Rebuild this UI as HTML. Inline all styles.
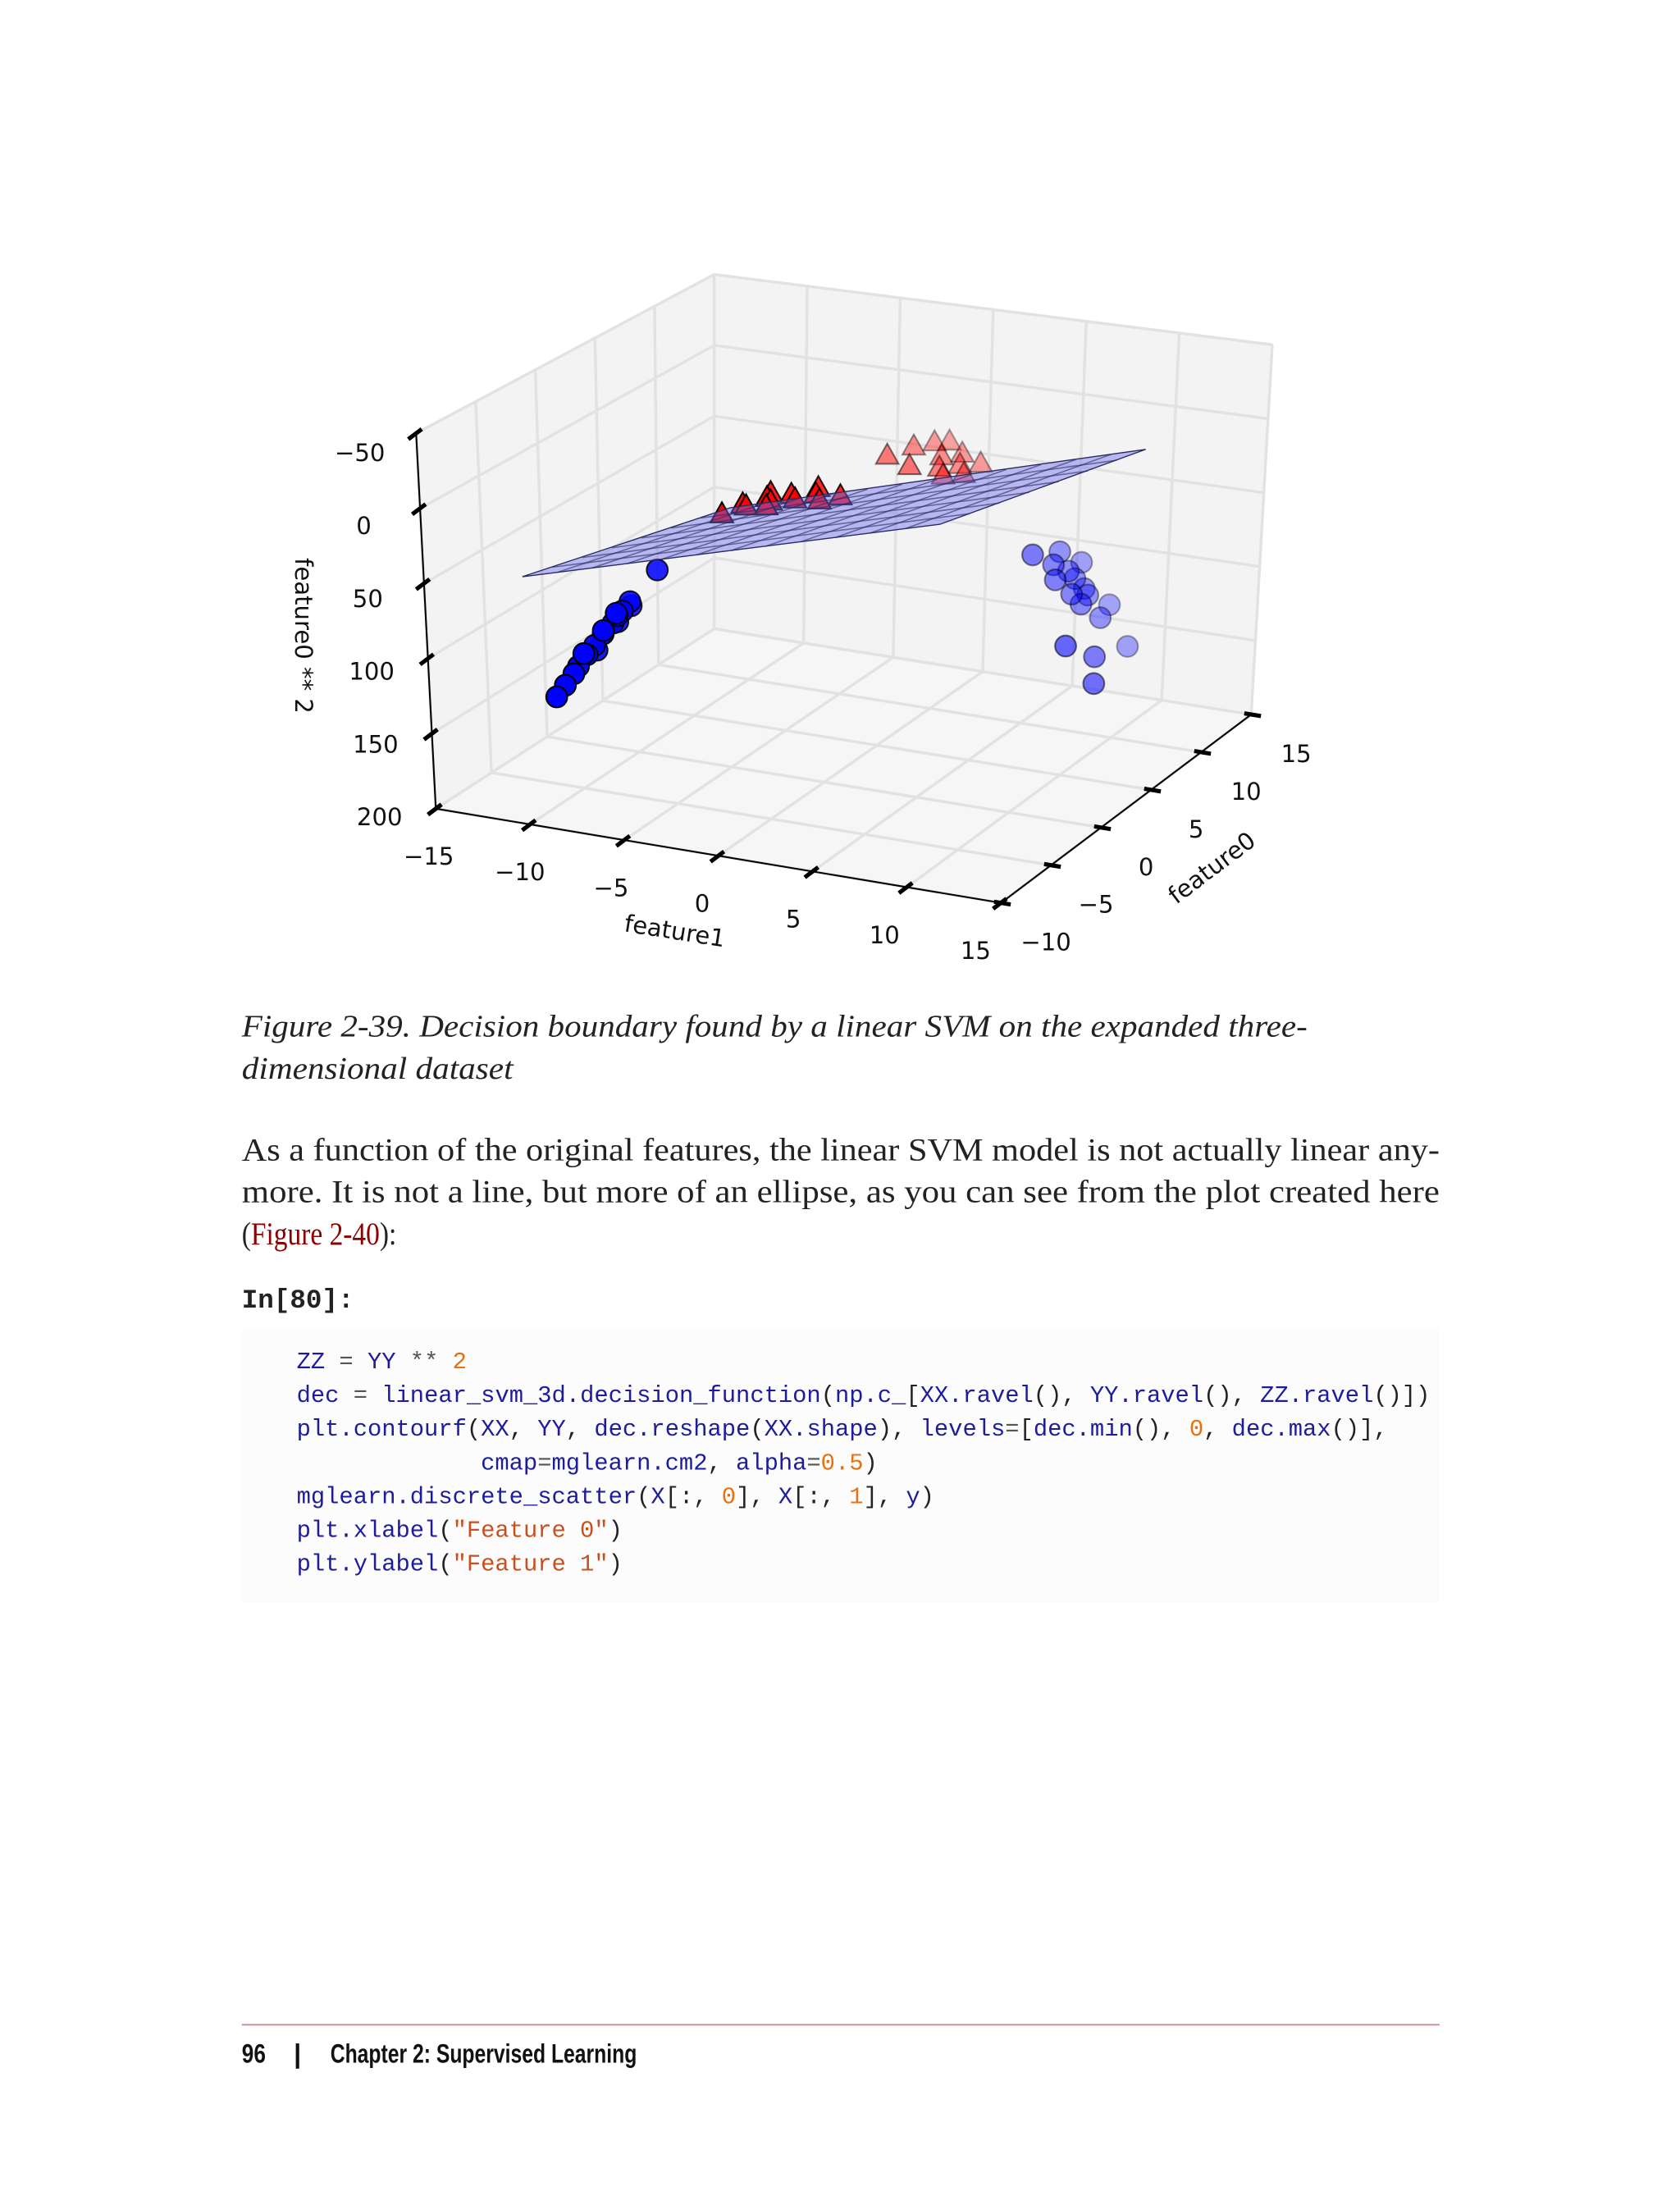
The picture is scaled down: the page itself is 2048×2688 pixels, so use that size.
<!DOCTYPE html>
<html><head><meta charset="utf-8"><style>
html,body{margin:0;padding:0;background:#fff;}
svg{display:block;}
.cap{font-family:"Liberation Serif",serif;font-style:italic;font-size:22px;fill:#222;}
.par{font-family:"Liberation Serif",serif;font-size:23px;fill:#222;}
.code{font-family:"Liberation Mono",monospace;font-size:16.8px;}
.tk{font-family:"DejaVu Sans",sans-serif;font-size:17px;fill:#111;}
</style></head><body>
<svg id="page" width="2048" height="2688" viewBox="0 0 1195 1568" xmlns="http://www.w3.org/2000/svg">
<g id="chart"></g>
<g>
<text class="cap" x="172" y="737" textLength="758" lengthAdjust="spacingAndGlyphs">Figure 2-39. Decision boundary found by a linear SVM on the expanded three-</text>
<text class="cap" x="172" y="767" textLength="193" lengthAdjust="spacingAndGlyphs">dimensional dataset</text>
</g>
<g>
<text class="par" x="172" y="825" textLength="852" lengthAdjust="spacingAndGlyphs">As a function of the original features, the linear SVM model is not actually linear any-</text>
<text class="par" x="172" y="855" textLength="852" lengthAdjust="spacingAndGlyphs">more. It is not a line, but more of an ellipse, as you can see from the plot created here</text>
<text class="par" x="172" y="885" textLength="110" lengthAdjust="spacingAndGlyphs">(<tspan fill="#8b0000">Figure 2-40</tspan>):</text>
</g>
<text x="172" y="930" style="font-family:'Liberation Mono',monospace;font-weight:bold;font-size:19px;fill:#222">In[80]:</text>
<rect x="172" y="945" width="852" height="195" fill="#fcfcfc"/>
<g class="code">
<text x="211" y="973"><tspan fill="#1d1d9b">ZZ</tspan><tspan fill="#555"> = </tspan><tspan fill="#1d1d9b">YY</tspan><tspan fill="#555"> ** </tspan><tspan fill="#e8700f">2</tspan></text>
<text x="211" y="997"><tspan fill="#1d1d9b">dec</tspan><tspan fill="#555"> = </tspan><tspan fill="#1d1d9b">linear_svm_3d.decision_function</tspan><tspan fill="#222">(</tspan><tspan fill="#1d1d9b">np.c_</tspan><tspan fill="#222">[</tspan><tspan fill="#1d1d9b">XX.ravel</tspan><tspan fill="#222">(), </tspan><tspan fill="#1d1d9b">YY.ravel</tspan><tspan fill="#222">(), </tspan><tspan fill="#1d1d9b">ZZ.ravel</tspan><tspan fill="#222">()])</tspan></text>
<text x="211" y="1021"><tspan fill="#1d1d9b">plt.contourf</tspan><tspan fill="#222">(</tspan><tspan fill="#1d1d9b">XX</tspan><tspan fill="#222">, </tspan><tspan fill="#1d1d9b">YY</tspan><tspan fill="#222">, </tspan><tspan fill="#1d1d9b">dec.reshape</tspan><tspan fill="#222">(</tspan><tspan fill="#1d1d9b">XX.shape</tspan><tspan fill="#222">), </tspan><tspan fill="#1d1d9b">levels</tspan><tspan fill="#555">=</tspan><tspan fill="#222">[</tspan><tspan fill="#1d1d9b">dec.min</tspan><tspan fill="#222">(), </tspan><tspan fill="#e8700f">0</tspan><tspan fill="#222">, </tspan><tspan fill="#1d1d9b">dec.max</tspan><tspan fill="#222">()],</tspan></text>
<text x="342" y="1045"><tspan fill="#1d1d9b">cmap</tspan><tspan fill="#555">=</tspan><tspan fill="#1d1d9b">mglearn.cm2</tspan><tspan fill="#222">, </tspan><tspan fill="#1d1d9b">alpha</tspan><tspan fill="#555">=</tspan><tspan fill="#e8700f">0.5</tspan><tspan fill="#222">)</tspan></text>
<text x="211" y="1069"><tspan fill="#1d1d9b">mglearn.discrete_scatter</tspan><tspan fill="#222">(</tspan><tspan fill="#1d1d9b">X</tspan><tspan fill="#222">[:, </tspan><tspan fill="#e8700f">0</tspan><tspan fill="#222">], </tspan><tspan fill="#1d1d9b">X</tspan><tspan fill="#222">[:, </tspan><tspan fill="#e8700f">1</tspan><tspan fill="#222">], </tspan><tspan fill="#1d1d9b">y</tspan><tspan fill="#222">)</tspan></text>
<text x="211" y="1093"><tspan fill="#1d1d9b">plt.xlabel</tspan><tspan fill="#222">(</tspan><tspan fill="#c8501e">"Feature 0"</tspan><tspan fill="#222">)</tspan></text>
<text x="211" y="1117"><tspan fill="#1d1d9b">plt.ylabel</tspan><tspan fill="#222">(</tspan><tspan fill="#c8501e">"Feature 1"</tspan><tspan fill="#222">)</tspan></text>
</g>
<line x1="172" y1="1440" x2="1024" y2="1440" stroke="#c89595" stroke-width="1.2"/>
<g style="font-family:'Liberation Sans Narrow','Liberation Sans',sans-serif;font-weight:bold;font-size:19px;fill:#111">
<text x="172" y="1467" textLength="17" lengthAdjust="spacingAndGlyphs">96</text>
<text x="209" y="1467">|</text>
<text x="235" y="1467" textLength="218" lengthAdjust="spacingAndGlyphs">Chapter 2: Supervised Learning</text>
</g>
</svg>
<script>
// ---- data ----
const f1Ticks = [-15,-10,-5,0,5,10,15];
const f0Ticks = [-10,-5,0,5,10,15];
const zTicks = [-50,0,50,100,150,200];
const f1Labels = ["\u221215","\u221210","\u22125","0","5","10","15"];
const f0Labels = ["\u221210","\u22125","0","5","10","15"];
const zLabels = ["\u221250","0","50","100","150","200"];
const redF1 = [-3,-2.5,-2,-1.5,-1,-0.5,0,0.5,1,1.5,-1.8,0.2,-0.8, 0.5,1,2,2.5,3,3.5,2.5,0,1.5,3.5,1.5,3];
const redF0 = [-3.5,-2.5,-3,-2,-2.5,-1.5,-2,-1,-1.5,-0.5,-1.2,-0.3,-3.2, 7.5,8.5,7.5,6.5,6,7,8.5,6,5.5,8.5,9,7.5];
const redZ  = [9,6,4,2,1,0.3,0,0.3,1,2,3,0,0.6, 8,9,12,14,16,19,14,8,10,19,10,16];
const blueF1 = [-12.3,-12.0,-11.7,-11.5,-11.2,-11.0,-10.9,-10.6,-10.4,-10.3,-10.0,-9.9,-9.8,-9.6,-8.45,-11.4,-10.6,-10.1,
                10.5,8.2,11.7,11.4,7.8,10.4,9.8,8.8,8.8,8.8,9.1,9.5,10.25,11.15,8.4,9.4,9.7];
const blueF0 = [-3.4,-3.1,-2.8,-2.7,-2.4,-3.0,-2.2,-1.9,-2.2,-1.5,-1.6,-1.3,-2.0,-1.1,-0.5,-1.2,-0.6,-0.2,
                4.6,7.9,5.2,8.9,6.1,8.0,7.2,7.7,8.9,6.5,7.8,8.0,9.1,6.2,7.0,7.0,8.0];
const blueZ = [151,144,137,132,125,121,119,112,108,106,100,98,96,92,71,128,110,100,
               110,67,136,130,61,108,96,78,78,78,83,90,105,124,71,89,94];
const planeCoef = [25.5,-3.6,2.06]; // z = c0 + c1*f1 + c2*f0
const planeF1Range = [-12,10.5];
const planeF0Range = [-6.4,11.6];
const planeDivs = [12,7];

// ---- projection (trilinear box) ----
const F = {FLb:[310,575],FRb:[712,642],BRb:[890,508],BLb:[508,447],
           FLt:[296,308],FRt:[698,375],BRt:[905,245],BLt:[508,195]};
function lerp(a,b,t){return [a[0]+(b[0]-a[0])*t,a[1]+(b[1]-a[1])*t];}
function proj(f1,f0,z){
  const u=(f1+15)/30, v=(f0+10)/25, w=(200-z)/250;
  const fb=lerp(F.FLb,F.FRb,u), bb=lerp(F.BLb,F.BRb,u);
  const fl=lerp(fb,bb,v);
  const ft=lerp(F.FLt,F.FRt,u), bt=lerp(F.BLt,F.BRt,u);
  const tp=lerp(ft,bt,v);
  return lerp(fl,tp,w);
}
const NS="http://www.w3.org/2000/svg";
const chart=document.getElementById('chart');
function mk(tag,attrs,parent){const e=document.createElementNS(NS,tag);for(const k in attrs)e.setAttribute(k,attrs[k]);(parent||chart).appendChild(e);return e;}
function pts(list){return list.map(p=>p[0].toFixed(1)+','+p[1].toFixed(1)).join(' ');}

// panes
const panes=mk('g',{});


const paneStyle={fill:'#f3f3f3',stroke:'#e4e4e4','stroke-width':1};
let p=mk('polygon',Object.assign({points:pts([proj(-15,-10,200),proj(-15,15,200),proj(-15,15,-50),proj(-15,-10,-50)])},paneStyle),panes);


p=mk('polygon',Object.assign({points:pts([proj(-15,15,200),proj(15,15,200),proj(15,15,-50),proj(-15,15,-50)])},paneStyle),panes);


p=mk('polygon',{points:pts([proj(-15,-10,200),proj(15,-10,200),proj(15,15,200),proj(-15,15,200)]),fill:'#f6f6f6'},panes);



// gridlines
const grid=mk('g',{stroke:'#e2e2e2','stroke-width':2,fill:'none'});


function gl(a,b){const l=mk('line',{x1:a[0],y1:a[1],x2:b[0],y2:b[1]},grid);}
f1Ticks.forEach(t=>{gl(proj(t,-10,200),proj(t,15,200));gl(proj(t,15,200),proj(t,15,-50));});
f0Ticks.forEach(t=>{gl(proj(-15,t,200),proj(15,t,200));gl(proj(-15,t,200),proj(-15,t,-50));});
zTicks.forEach(t=>{gl(proj(-15,-10,t),proj(-15,15,t));gl(proj(-15,15,t),proj(15,15,t));});

// axes
const axes=mk('g',{stroke:'#000','stroke-width':1.2});


function al(a,b,name){const l=mk('line',{x1:a[0],y1:a[1],x2:b[0],y2:b[1]},axes);}
al(proj(-15,-10,200),proj(-15,-10,-50),'z-axis-line');
al(proj(-15,-10,200),proj(15,-10,200),'feature1-axis-line');
al(proj(15,-10,200),proj(15,15,200),'feature0-axis-line');
function unit(a,b){const dx=b[0]-a[0],dy=b[1]-a[1],L=Math.hypot(dx,dy);return [dx/L,dy/L];}
const dirF0=unit(proj(15,-10,200),proj(15,15,200));
const dirF1=unit(proj(-15,-10,200),proj(15,-10,200));
function tick(pt,d,name){const l=mk('line',{x1:pt[0]-d[0]*7,y1:pt[1]-d[1]*7,x2:pt[0]+d[0]*5,y2:pt[1]+d[1]*5,'stroke-width':3},axes);}
function label(txt,x,y,name,extra){const t=mk('text',Object.assign({x:x,y:y,'text-anchor':'middle','dominant-baseline':'central',class:'tk'},extra||{}));t.textContent=txt;return t;}
zTicks.forEach((t,i)=>{const q=proj(-15,-10,t);tick(q,dirF0,'z-tick');label(zLabels[i],q[0]-40,q[1]+14-(i*1.6),'z-tick-label');});
f1Ticks.forEach((t,i)=>{const q=proj(t,-10,200);tick(q,dirF0,'feature1-tick');const u=(t+15)/30;label(f1Labels[i],q[0]-5-13*u,q[1]+34,'feature1-tick-label');});
f0Ticks.forEach((t,i)=>{const q=proj(15,t,200);tick(q,[-dirF1[0],-dirF1[1]],'feature0-tick');label(f0Labels[i],q[0]+32,q[1]+28,'feature0-tick-label');});
label('feature1',480,662,'x-axis-title',{transform:'rotate(9 480 662)'});
label('feature0',862,617,'y-axis-title',{transform:'rotate(-37 862 617)'});
label('feature0 ** 2',216,452,'z-axis-title',{transform:'rotate(90 216 452)'});

// points
const pointsG=mk('g',{});


const all=[];
redF1.forEach((v,i)=>all.push({c:'r',f1:v,f0:redF0[i],z:redZ[i]}));
blueF1.forEach((v,i)=>all.push({c:'b',f1:v,f0:blueF0[i],z:blueZ[i]}));
all.sort((a,b)=>b.f0-a.f0);
all.forEach(o=>{
  const q=proj(o.f1,o.f0,o.z);
  const a=Math.max(0.32,Math.min(1,1-(o.f0+3)*0.055));
  if(o.c==='b'){
    const e=mk('circle',{cx:q[0],cy:q[1],r:7.5,fill:'#0000ff','fill-opacity':a,stroke:'#000','stroke-opacity':a,'stroke-width':1.2},pointsG);
    
    
  } else {
    const s=9;
    const e=mk('polygon',{points:pts([[q[0],q[1]-s],[q[0]+s*0.9,q[1]+s*0.6],[q[0]-s*0.9,q[1]+s*0.6]]),fill:'#ff0000','fill-opacity':a,stroke:'#000','stroke-opacity':a,'stroke-width':1.2},pointsG);
    
    
  }
});

// decision plane
const planeG=mk('g',{});


function pz(f1,f0){return planeCoef[0]+planeCoef[1]*f1+planeCoef[2]*f0;}
const [a0,a1]=planeF1Range,[b0,b1]=planeF0Range;
const poly=mk('polygon',{points:pts([proj(a0,b0,pz(a0,b0)),proj(a1,b0,pz(a1,b0)),proj(a1,b1,pz(a1,b1)),proj(a0,b1,pz(a0,b1))]),fill:'#6e6ef0','fill-opacity':0.45,stroke:'#2a2a60','stroke-width':0.8},planeG);


for(let i=1;i<planeDivs[0];i++){const f=a0+(a1-a0)*i/planeDivs[0];const s=proj(f,b0,pz(f,b0)),e=proj(f,b1,pz(f,b1));
  const l=mk('line',{x1:s[0],y1:s[1],x2:e[0],y2:e[1],stroke:'#2a2a60','stroke-opacity':0.6,'stroke-width':0.9},planeG);
  
  }
for(let i=1;i<planeDivs[1];i++){const f=b0+(b1-b0)*i/planeDivs[1];const s=proj(a0,f,pz(a0,f)),e=proj(a1,f,pz(a1,f));
  const l=mk('line',{x1:s[0],y1:s[1],x2:e[0],y2:e[1],stroke:'#2a2a60','stroke-opacity':0.6,'stroke-width':0.9},planeG);
  
  }
</script>
</body></html>
